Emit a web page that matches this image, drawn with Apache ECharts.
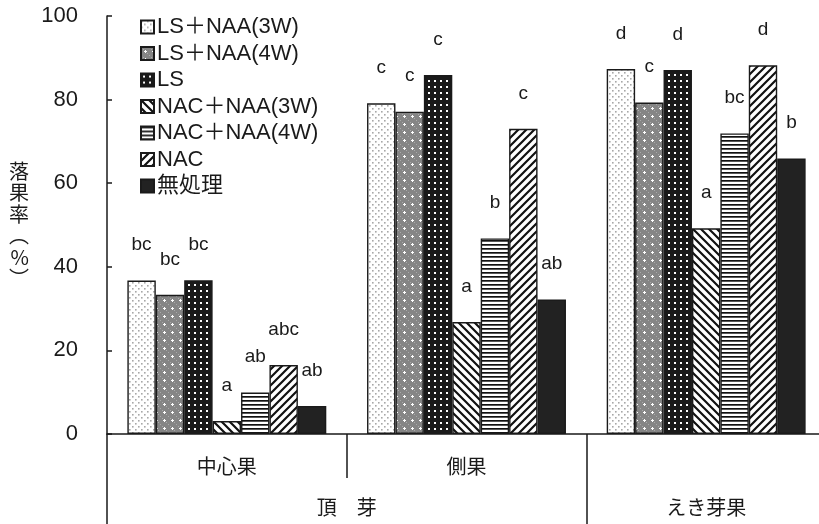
<!DOCTYPE html>
<html>
<head>
<meta charset="utf-8">
<script src="https://cdn.jsdelivr.net/npm/echarts@6/dist/echarts.min.js"></script>
<style>
  html, body { margin: 0; padding: 0; background: #ffffff; }
  #chart { width: 819px; height: 524px; }
</style>
</head>
<body>
<div id="chart"></div>
<script>
// Fruit drop rate (%) by fruit position and treatment
const categories = ['中心果', '側果', 'えき芽果'];
const groupLabels = ['頂　芽', 'えき芽果'];
const treatments = ['LS＋NAA(3W)', 'LS＋NAA(4W)', 'LS', 'NAC＋NAA(3W)', 'NAC＋NAA(4W)', 'NAC', '無処理'];

const lsNaa3w  = [36.7, 79.1, 87.3];
const lsNaa4w  = [33.3, 77.1, 79.3];
const ls       = [36.8, 85.9, 87.1];
const nacNaa3w = [3.1, 26.8, 49.2];
const nacNaa4w = [9.9, 46.8, 71.9];
const nac      = [16.5, 73.0, 88.2];
const control  = [6.7, 32.2, 65.9];

// significance letters, per treatment, per category
const letters = [
  ['bc', 'c', 'd'],
  ['bc', 'c', 'c'],
  ['bc', 'c', 'd'],
  ['a', 'a', 'a'],
  ['ab', 'b', 'bc'],
  ['abc', 'c', 'd'],
  ['ab', 'ab', 'b']
];

const yTicks = [0, 20, 40, 60, 80, 100];

// --- hatch / dot fills ---
function makeTile(w, h, draw) {
  const c = document.createElement('canvas');
  c.width = w; c.height = h;
  const ctx = c.getContext('2d');
  draw(ctx, w, h);
  return { image: c, repeat: 'repeat' };
}

const fills = [
  // fine grey dots on white
  makeTile(6, 6, (ctx, w, h) => {
    ctx.fillStyle = '#ffffff'; ctx.fillRect(0, 0, w, h);
    ctx.fillStyle = '#a8a8a8';
    ctx.fillRect(0, 0, 1.6, 1.6);
    ctx.fillRect(3, 3, 1.6, 1.6);
  }),
  // grey screen with white crosses
  makeTile(8, 8, (ctx, w, h) => {
    ctx.fillStyle = '#858585'; ctx.fillRect(0, 0, w, h);
    ctx.fillStyle = '#aaaaaa';
    ctx.fillRect(0, 0, 1, 1); ctx.fillRect(2, 2, 1, 1); ctx.fillRect(6, 6, 1, 1);
    ctx.fillStyle = '#ffffff';
    ctx.fillRect(4, 3, 1, 3); ctx.fillRect(3, 4, 3, 1);
  }),
  // white dots on black
  makeTile(6, 6, (ctx, w, h) => {
    ctx.fillStyle = '#1a1a1a'; ctx.fillRect(0, 0, w, h);
    ctx.fillStyle = '#ffffff';
    ctx.fillRect(2, 2, 2, 2);
  }),
  // back-diagonal stripes
  makeTile(8, 8, (ctx, w, h) => {
    ctx.fillStyle = '#ffffff'; ctx.fillRect(0, 0, w, h);
    ctx.strokeStyle = '#111111'; ctx.lineWidth = 2.2;
    ctx.beginPath();
    ctx.moveTo(-2, -2); ctx.lineTo(10, 10);
    ctx.moveTo(-2, 6); ctx.lineTo(2, 10);
    ctx.moveTo(6, -2); ctx.lineTo(10, 2);
    ctx.stroke();
  }),
  // horizontal stripes
  makeTile(4, 4, (ctx, w, h) => {
    ctx.fillStyle = '#ffffff'; ctx.fillRect(0, 0, w, h);
    ctx.fillStyle = '#111111';
    ctx.fillRect(0, 0, w, 1.7);
  }),
  // forward-diagonal stripes
  makeTile(8, 8, (ctx, w, h) => {
    ctx.fillStyle = '#ffffff'; ctx.fillRect(0, 0, w, h);
    ctx.strokeStyle = '#111111'; ctx.lineWidth = 2.2;
    ctx.beginPath();
    ctx.moveTo(-2, 10); ctx.lineTo(10, -2);
    ctx.moveTo(-2, 2); ctx.lineTo(2, -2);
    ctx.moveTo(6, 10); ctx.lineTo(10, 6);
    ctx.stroke();
  }),
  '#222222'
];

const seriesValues = [lsNaa3w, lsNaa4w, ls, nacNaa3w, nacNaa4w, nac, control];

const FONT = '"Liberation Sans", Arial, "Noto Sans CJK JP", sans-serif';
const JFONT = '"Noto Sans CJK JP", "Liberation Sans", sans-serif';
const INK = '#1a1a1a';

const series = treatments.map((name, i) => ({
  name: name,
  type: 'bar',
  xAxisIndex: 0,
  barGap: '0%',
  barCategoryGap: '17%',
  data: seriesValues[i],
  itemStyle: { color: fills[i], borderColor: INK, borderWidth: 1.4 },
  label: {
    show: true,
    position: 'top',
    distance: 26,
    fontFamily: FONT,
    fontSize: 19,
    color: INK,
    formatter: p => letters[i][p.dataIndex]
  },
  emphasis: { disabled: true }
}));

const chart = echarts.init(document.getElementById('chart'), null, { renderer: 'canvas' });
chart.setOption({
  backgroundColor: '#ffffff',
  animation: false,
  grid: {
    left: 107, right: -7, top: 16, bottom: 90,
    containLabel: false,
    outerBoundsMode: 'none'
  },
  legend: {
    orient: 'vertical',
    left: 140,
    top: 16,
    padding: 0,
    itemWidth: 13,
    itemHeight: 13,
    itemGap: 4.5,
    icon: 'rect',
    data: treatments,
    textStyle: { fontFamily: FONT, fontSize: 22, color: INK, padding: [0, 0, 0, -2] }
  },
  xAxis: [
    {
      type: 'category',
      data: categories,
      position: 'bottom',
      axisLine: { lineStyle: { color: INK, width: 1.5 } },
      axisTick: { show: true, interval: 0, length: 44, lineStyle: { color: INK, width: 1.5 } },
      axisLabel: {
        interval: 0,
        margin: 22,
        fontFamily: JFONT,
        fontSize: 20,
        color: INK,
        formatter: v => (v === 'えき芽果' ? '' : v)
      },
      splitLine: { show: false }
    },
    {
      type: 'value',
      min: 0,
      max: 3,
      position: 'bottom',
      axisLine: { show: false },
      axisTick: { show: true, customValues: [0, 2], length: 90, lineStyle: { color: INK, width: 1.5 } },
      axisLabel: {
        customValues: [1, 2.5],
        margin: 63,
        fontFamily: JFONT,
        fontSize: 20,
        color: INK,
        formatter: v => (v === 1 ? groupLabels[0] : groupLabels[1])
      },
      splitLine: { show: false }
    }
  ],
  yAxis: {
    type: 'value',
    min: 0,
    max: 100,
    interval: 20,
    name: '落\n果\n率\n︵\n%\n︶',
    nameLocation: 'middle',
    nameRotate: 0,
    nameGap: 78,
    nameTextStyle: { fontFamily: JFONT, fontSize: 20, color: INK, lineHeight: 21.5, padding: [0, 0, 14, 0] },
    axisLine: { show: true, lineStyle: { color: INK, width: 1.5 } },
    axisTick: { show: true, inside: true, length: 5, lineStyle: { color: INK, width: 1.5 } },
    axisLabel: {
      margin: 29,
      fontFamily: FONT,
      fontSize: 22,
      color: INK,
      customValues: yTicks
    },
    splitLine: { show: false }
  },
  series: series
});
</script>
</body>
</html>
